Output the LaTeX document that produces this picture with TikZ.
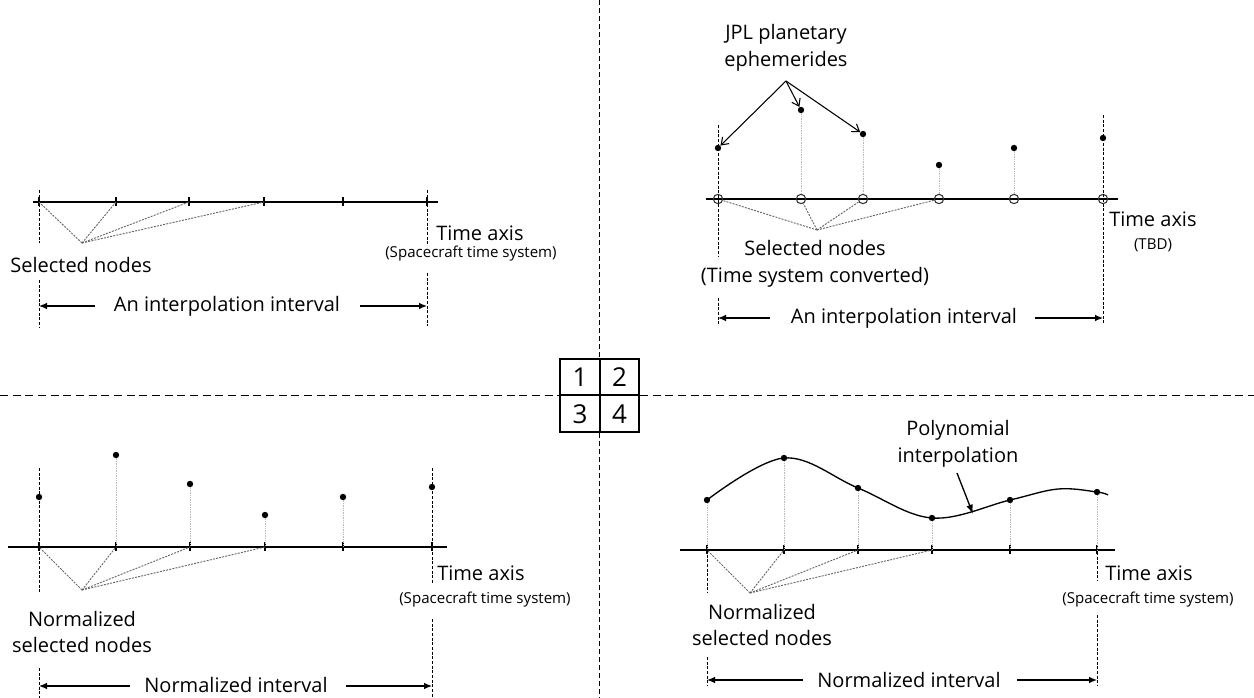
\documentclass[tikz,border=0pt]{standalone}
\usepackage{fontspec}
\setmainfont{Open Sans}
\usetikzlibrary{arrows.meta}
\tikzset{
  axisline/.style={line width=1.1pt},
  tickline/.style={line width=0.8pt},
  guide/.style={line width=0.65pt, dash pattern=on 2.2pt off 1.3pt},
  fanline/.style={line width=0.7pt, black!60, dash pattern=on 1.5pt off 0.9pt},
  stem/.style={line width=0.5pt, black!28, dash pattern=on 1pt off 0.8pt},
  dot/.style={circle, fill=black, inner sep=0pt, minimum size=4.8pt},
  ring/.style={circle, draw=black!80, line width=0.8pt, inner sep=0pt, minimum size=7pt},
  lbl/.style={inner sep=0pt, font=\fontsize{15}{20}\selectfont, align=center},
  slbl/.style={inner sep=0pt, font=\fontsize{11.3}{13}\selectfont},
  numlbl/.style={inner sep=0pt, font=\fontsize{19.5}{20}\selectfont},
  spanarrow/.style={line width=0.9pt, -{Latex[length=6pt,width=5pt]}},
  openarrow/.style={line width=0.8pt, -{Straight Barb[length=5pt,width=7pt]}},
  hsep/.style={line width=0.7pt, dash pattern=on 6pt off 3.5pt},
  vsep/.style={line width=0.7pt, dash pattern=on 3.5pt off 2.5pt},
}
\begin{document}
\begin{tikzpicture}[x=0.75pt,y=-0.75pt]
\path[use as bounding box] (0,0) rectangle (1254,698);

% ---------- centre separators and quadrant key ----------
\node[draw, line width=1.5pt, minimum width=59.25pt, minimum height=54.75pt, inner sep=0pt] (grid) at (599.5,395.5) {};
\draw[line width=1.5pt] (grid.north) -- (grid.south);
\draw[line width=1.5pt] (grid.west) -- (grid.east);
\node[numlbl] (n1) at (580,377.5) {1};
\node[numlbl] (n2) at (619.5,377.5) {2};
\node[numlbl] (n3) at (580,414) {3};
\node[numlbl] (n4) at (619.5,414) {4};
\coordinate (vtop) at (599.5,0);
\coordinate (vbot) at (599.5,698);
\coordinate (hleft) at (0,395.5);
\coordinate (hright) at (1254,395.5);
\draw[vsep] (vtop) -- (grid.north);
\draw[vsep] (grid.south) -- (vbot);
\draw[hsep] (hleft) -- (grid.west);
\draw[hsep] (grid.east) -- (hright);

% ---------- panel 1 ----------
\coordinate (a0) at (33,202); \coordinate (a7) at (438,202);
\draw[axisline] (a0) -- (a7);
\foreach \n/\x in {1/39,2/116,3/189,4/264,5/343,6/427}{
  \coordinate (a\n) at (\x,202);
  \draw[tickline] (\x,197) -- (\x,206);
}
\coordinate (af) at (82,243);
\foreach \n in {1,2,3,4}{ \draw[fanline] (af) -- (a\n); }
\coordinate (ag1) at (39,190); \coordinate (ag2) at (39,243);
\coordinate (ag3) at (39,280); \coordinate (ag4) at (39,327);
\draw[guide] (ag1) -- (ag2); \draw[guide] (ag3) -- (ag4);
\coordinate (ah1) at (427,190); \coordinate (ah2) at (427,246);
\coordinate (ah3) at (427,273); \coordinate (ah4) at (427,326);
\draw[guide] (ah1) -- (ah2); \draw[guide] (ah3) -- (ah4);
\node[lbl] (asel) at (81,265) {Selected nodes};
\node[lbl, anchor=west] (atime) at (436,233) {Time axis};
\node[slbl] (asys) at (471,254) {(Spacecraft time system)};
\node[lbl] (aint) at (227,306) {An interpolation interval};
\coordinate (al) at (39,306); \coordinate (ar) at (427,306);
\coordinate (alx) at (95,306); \coordinate (arx) at (360,306);
\draw[spanarrow] (alx) -- (al);
\draw[spanarrow] (arx) -- (ar);

% ---------- panel 2 ----------
\coordinate (b0) at (706,199); \coordinate (b7) at (1118,199);
\draw[axisline] (b0) -- (b7);
\foreach \n/\x/\y in {1/718/148,2/801/110,3/863/134,4/939/165,5/1014/148,6/1103/138}{
  \node[ring] (b\n) at (\x,199) {};
  \node[dot] (bp\n) at (\x,\y) {};
}
\foreach \n in {2,3,4,5}{ \draw[stem] (bp\n) -- (b\n.north); }
\coordinate (bf) at (817,230);
\foreach \n in {1,2,3,4}{ \draw[fanline] (bf) -- (b\n); }
\coordinate (bg1) at (718,125); \coordinate (bg2) at (718,257);
\coordinate (bg3) at (718,298); \coordinate (bg4) at (718,325);
\draw[guide] (bg1) -- (bg2); \draw[guide] (bg3) -- (bg4);
\coordinate (bh1) at (1103,115); \coordinate (bh2) at (1103,324);
\draw[guide] (bh1) -- (bh2);
\node[lbl] (bjpl) at (786,48) {JPL planetary\\ephemerides};
\coordinate (bsrc) at (786,81);
\draw[openarrow] (bsrc) -- (bp1);
\draw[openarrow] (bsrc) -- (bp2);
\draw[openarrow] (bsrc) -- (bp3);
\node[lbl] (bsel) at (815,264) {Selected nodes\\(Time system converted)};
\node[lbl, anchor=west] (btime) at (1109,219) {Time axis};
\node[slbl] (btbd) at (1153,245) {(TBD)};
\node[lbl] (bint) at (904,318) {An interpolation interval};
\coordinate (bl) at (718,318); \coordinate (br) at (1103,318);
\coordinate (blx) at (770,318); \coordinate (brx) at (1035,318);
\draw[spanarrow] (blx) -- (bl);
\draw[spanarrow] (brx) -- (br);

% ---------- panel 3 ----------
\coordinate (c0) at (8,547); \coordinate (c7) at (447,547);
\draw[axisline] (c0) -- (c7);
\foreach \n/\x/\y in {1/39/497,2/116/455,3/190/484,4/265/515,5/343/497,6/432/487}{
  \coordinate (c\n) at (\x,547);
  \draw[tickline] (\x,542) -- (\x,551);
  \node[dot] (cp\n) at (\x,\y) {};
}
\foreach \n in {2,3,4,5}{ \draw[stem] (cp\n) -- (c\n); }
\coordinate (cf) at (82,590);
\foreach \n in {1,2,3,4}{ \draw[fanline] (cf) -- (c\n); }
\coordinate (cg1) at (39,468); \coordinate (cg2) at (39,592);
\coordinate (cg3) at (39,668); \coordinate (cg4) at (39,698);
\draw[guide] (cg1) -- (cg2); \draw[guide] (cg3) -- (cg4);
\coordinate (ch1) at (432,468); \coordinate (ch2) at (432,584);
\coordinate (ch3) at (432,619); \coordinate (ch4) at (432,698);
\draw[guide] (ch1) -- (ch2); \draw[guide] (ch3) -- (ch4);
\node[lbl] (csel) at (82,632) {Normalized\\selected nodes};
\node[lbl, anchor=west] (ctime) at (437,573) {Time axis};
\node[slbl] (csys) at (485,600) {(Spacecraft time system)};
\node[lbl] (cint) at (236,685) {Normalized interval};
\coordinate (cl) at (39,686); \coordinate (cr) at (432,686);
\coordinate (clx) at (130,686); \coordinate (crx) at (346,686);
\draw[spanarrow] (clx) -- (cl);
\draw[spanarrow] (crx) -- (cr);

% ---------- panel 4 ----------
\coordinate (d0) at (680,550); \coordinate (d7) at (1115,550);
\draw[axisline] (d0) -- (d7);
\foreach \n/\x/\y in {1/707/500,2/784/458,3/858/488,4/932/518,5/1010/500,6/1097/492}{
  \coordinate (d\n) at (\x,550);
  \draw[tickline] (\x,545) -- (\x,554);
  \coordinate (dq\n) at (\x,\y);
}
\foreach \n in {1,2,3,4,5,6}{ \draw[stem] (dq\n) -- (d\n); }
\draw[line width=1pt] plot[smooth, tension=0.6] coordinates
  {(707,500) (784,458) (858,488) (932,518) (1010,500) (1058,489) (1097,492) (1108,495)};
\foreach \n in {1,2,3,4,5,6}{ \node[dot] (dp\n) at (dq\n) {}; }
\coordinate (df) at (750,593);
\foreach \n in {1,2,3,4}{ \draw[fanline] (df) -- (d\n); }
\coordinate (dg1) at (707,550); \coordinate (dg2) at (707,593);
\coordinate (dg3) at (707,657); \coordinate (dg4) at (707,686);
\draw[guide] (dg1) -- (dg2); \draw[guide] (dg3) -- (dg4);
\coordinate (dh1) at (1097,552); \coordinate (dh2) at (1097,581);
\coordinate (dh3) at (1097,615); \coordinate (dh4) at (1097,686);
\draw[guide] (dh1) -- (dh2); \draw[guide] (dh3) -- (dh4);
\node[lbl] (dpoly) at (958,444) {Polynomial\\interpolation};
\coordinate (dps) at (957,473); \coordinate (dpe) at (973,514);
\draw[line width=1pt, -{Latex[length=7pt,width=5pt]}] (dps) -- (dpe);
\node[lbl] (dsel) at (762,625) {Normalized\\selected nodes};
\node[lbl, anchor=west] (dtime) at (1105,573) {Time axis};
\node[slbl] (dsys) at (1148,600) {(Spacecraft time system)};
\node[lbl] (dint) at (909,680) {Normalized interval};
\coordinate (dl) at (707,680); \coordinate (dr) at (1097,680);
\coordinate (dlx) at (803,680); \coordinate (drx) at (1017,680);
\draw[spanarrow] (dlx) -- (dl);
\draw[spanarrow] (drx) -- (dr);
\end{tikzpicture}
\end{document}
